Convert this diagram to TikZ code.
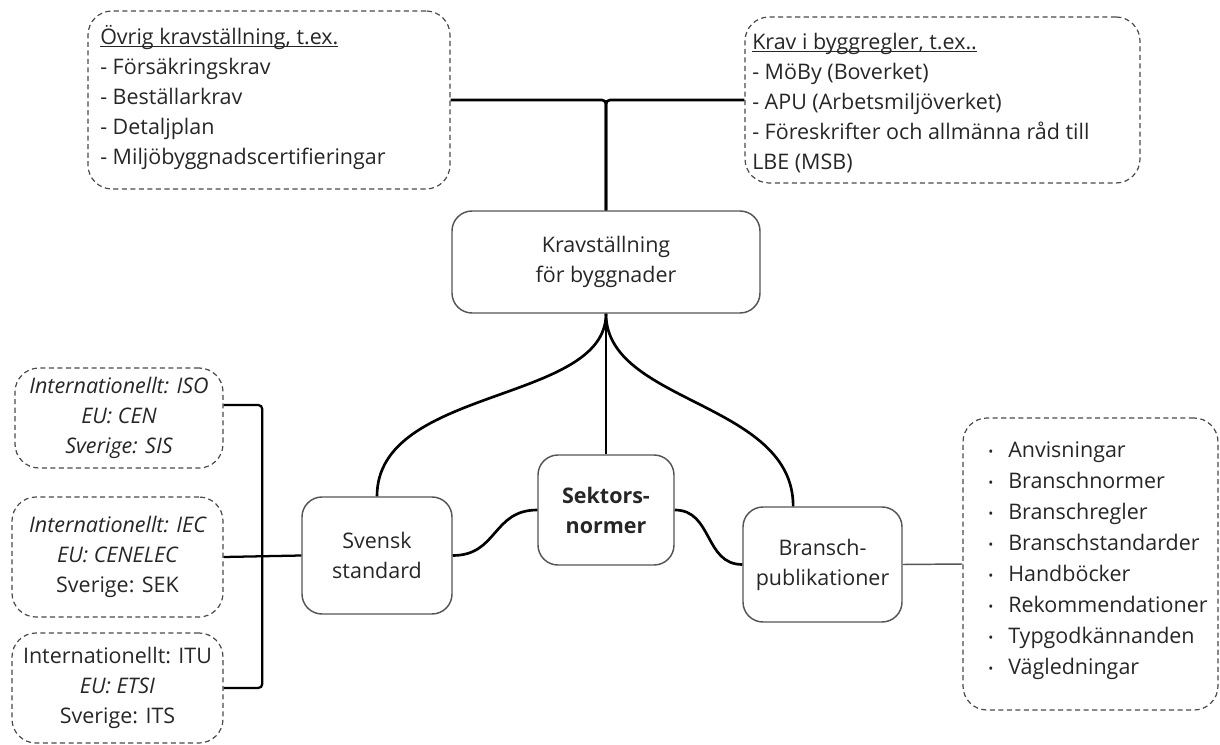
\documentclass[tikz,border=0pt]{standalone}
\usepackage{fontspec}
\setmainfont{Open Sans}
\usetikzlibrary{calc}

% underline that sits just under the baseline
\newcommand\basicul[1]{\setbox0\hbox{#1}\rlap{\rule[-2pt]{\wd0}{0.75pt}}#1}
\newcommand\smallbullet{\makebox[15pt][l]{\raisebox{1.2pt}{\fontsize{10}{10}\selectfont •}}}

\definecolor{txt}{HTML}{262626}
\definecolor{boxline}{HTML}{555555}
\definecolor{dashline}{HTML}{4A4A4A}

\tikzset{
  txtfont/.style={font=\fontsize{16.1}{22.5}\selectfont, text=txt},
  mainbox/.style={draw=boxline, line width=1.1pt, rounded corners=15pt,
    inner sep=0pt, align=center, txtfont},
  notebox/.style={draw=dashline, line width=0.9pt, dash pattern=on 3.8pt off 2.6pt,
    rounded corners=18pt, inner sep=0pt, align=center, txtfont},
  notetext/.style={inner sep=0pt, align=left, anchor=west, txtfont},
  link/.style={draw=black, line width=2pt, rounded corners=3pt},
  thinlink/.style={draw=boxline, line width=1.1pt}
}

\begin{document}
\begin{tikzpicture}[x=0.75pt, y=-0.75pt]
\useasboundingbox (0,0) rectangle (1220,745);

% ---------- central boxes ----------
\node[mainbox, minimum width=231pt, minimum height=76.5pt] (krav) at (606,262)
  {Kravställning\\för byggnader};
\node[mainbox, minimum width=112.5pt, minimum height=87.75pt] (svensk) at (377,555.5)
  {Svensk\\standard};
\node[mainbox, minimum width=102pt, minimum height=82.5pt] (sektors) at (606,510)
  {\bfseries Sektors-\\\bfseries normer};
\node[mainbox, minimum width=119.25pt, minimum height=86.25pt] (bransch) at (822.5,564.5)
  {Bransch-\\publikationer};

% ---------- top note boxes ----------
\node[notebox, minimum width=271.5pt, minimum height=133.5pt] (ovrig) at (269,100) {};
\node[notetext] (ovrigtext) at (100,97) {\basicul{Övrig kravställning, t.ex.}\\
  - Försäkringskrav\\
  - Beställarkrav\\
  - Detaljplan\\
  - Miljöbyggnadscertifieringar};

\node[notebox, minimum width=296.25pt, minimum height=124.5pt] (regler) at (942.5,100) {};
\node[notetext] (reglertext) at (752,103) {\basicul{Krav i byggregler, t.ex..}\\
  - MöBy (Boverket)\\
  - APU (Arbetsmiljöverket)\\
  - Föreskrifter och allmänna råd till\\
  LBE (MSB)};

% ---------- standardisation bodies ----------
\node[notebox, minimum width=156pt, minimum height=75pt] (iso) at (119,418)
  {\itshape Internationellt: ISO\\\itshape EU: CEN\\\itshape Sverige: SIS};
\node[notebox, minimum width=158.25pt, minimum height=90pt] (iec) at (117.5,557)
  {\itshape Internationellt: IEC\\\itshape EU: CENELEC\\Sverige: SEK};
\node[notebox, minimum width=158.25pt, minimum height=82.5pt] (itu) at (117.5,688)
  {Internationellt: ITU\\\itshape EU: ETSI\\Sverige: ITS};

% ---------- publication types ----------
\node[notebox, minimum width=191.25pt, minimum height=219pt] (typer) at (1090.5,564) {};
\node[notetext, font=\fontsize{16.1}{23.25}\selectfont] (typertext) at (988,561) {%
  \smallbullet Anvisningar\\
  \smallbullet Branschnormer\\
  \smallbullet Branschregler\\
  \smallbullet Branschstandarder\\
  \smallbullet Handböcker\\
  \smallbullet Rekommendationer\\
  \smallbullet Typgodkännanden\\
  \smallbullet Vägledningar};

% ---------- connectors ----------
\coordinate (topjoin) at (krav.north |- ovrig.east);
\draw[link] (ovrig.east) -- (topjoin) -- (krav.north);
\draw[link] (regler.west) -- (topjoin) -- (krav.north);

\coordinate (bransch top) at ([xshift=-22pt]bransch.north);
\draw[link] (krav.south) .. controls +(0,90) and +(0,-110) .. (svensk.north);
\draw[link] (krav.south) -- (sektors.north);
\draw[link] (krav.south) .. controls +(0,90) and +(0,-105) .. (bransch top);

\draw[link] (svensk.east) .. controls +(45,0) and +(-45,0) .. (sektors.west);
\draw[link] (sektors.east) .. controls +(38,0) and +(-38,0) .. (bransch.west);

\coordinate (isoport) at ([yshift=9.75pt]iso.east);
\coordinate (leftjoin) at ([xshift=-29.25pt]svensk.west);
\draw[link, line width=1.7pt] (isoport) -| (leftjoin);
\draw[link, line width=1.7pt] (itu.east) -| (leftjoin);
\draw[link, line width=1.7pt] (iec.east) -- (svensk.west);

\draw[thinlink] (bransch.east) -- (typer.west);
\end{tikzpicture}
\end{document}
